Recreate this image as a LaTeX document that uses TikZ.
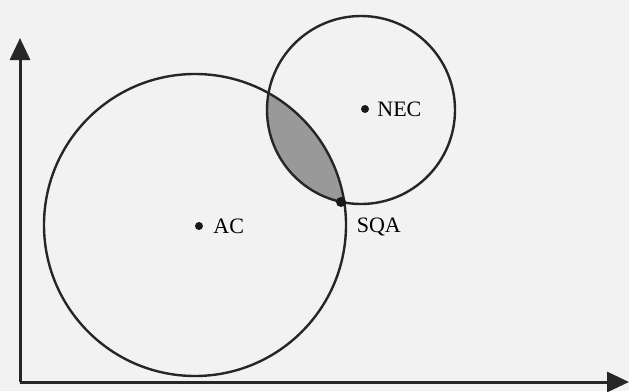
\documentclass[tikz,border=0pt]{standalone}
\usepackage{fontspec}
\setmainfont{Liberation Serif}
\usepackage{xcolor}
\usepackage{tikz}
\usetikzlibrary{arrows.meta, positioning}
\tikzset{
  %% Axis with solid triangle head
  axis/.style={-{Triangle[length=22pt,width=20pt]},
               draw=black!85, line width=3pt},
  %% Region circle
  region/.style={draw=black!85, line width=2.4pt},
  %% Overlap area
  overlap/.style={fill=black!40},
  %% Point marker
  pt/.style={circle, fill=black!90, inner sep=0pt, minimum size=#1},
  pt/.default=8pt,
  %% Point label
  lbl/.style={inner sep=0pt, font=\fontsize{22}{24}\selectfont},
}
\begin{document}
\begin{tikzpicture}[x=1pt, y=-1pt]

  %% Frame
  \fill[black!5] (0,0) rectangle (629,391);
  \useasboundingbox (0,0) rectangle (629,391);

  %% Centres of the two regions
  \coordinate (cbig) at (195,225);
  \coordinate (csmall) at (361,110);

  %% Shaded overlap
  \begin{scope}
    \clip (cbig) circle[radius=151];
    \fill[overlap] (csmall) circle[radius=94];
  \end{scope}

  %% Circles
  \draw[region] (cbig) circle[radius=151];
  \draw[region] (csmall) circle[radius=94];

  %% Axes
  \coordinate (o) at (20,382);
  \coordinate (ytip) at (20,38);
  \coordinate (xtip) at (629,382);
  \draw[axis] (o) -- (ytip);
  \draw[axis] (o) -- (xtip);

  %% Points
  \node[pt] (ac) at (199,226) {};
  \node[lbl, right=10pt of ac] (aclbl) {AC};
  \node[pt] (nec) at (365,109) {};
  \node[lbl, right=8pt of nec] (neclbl) {NEC};
  \node[pt=10pt] (sqa) at (341,202) {};
  \node[lbl, below right=12pt and 12pt of sqa] (sqalbl) {SQA};

\end{tikzpicture}
\end{document}
